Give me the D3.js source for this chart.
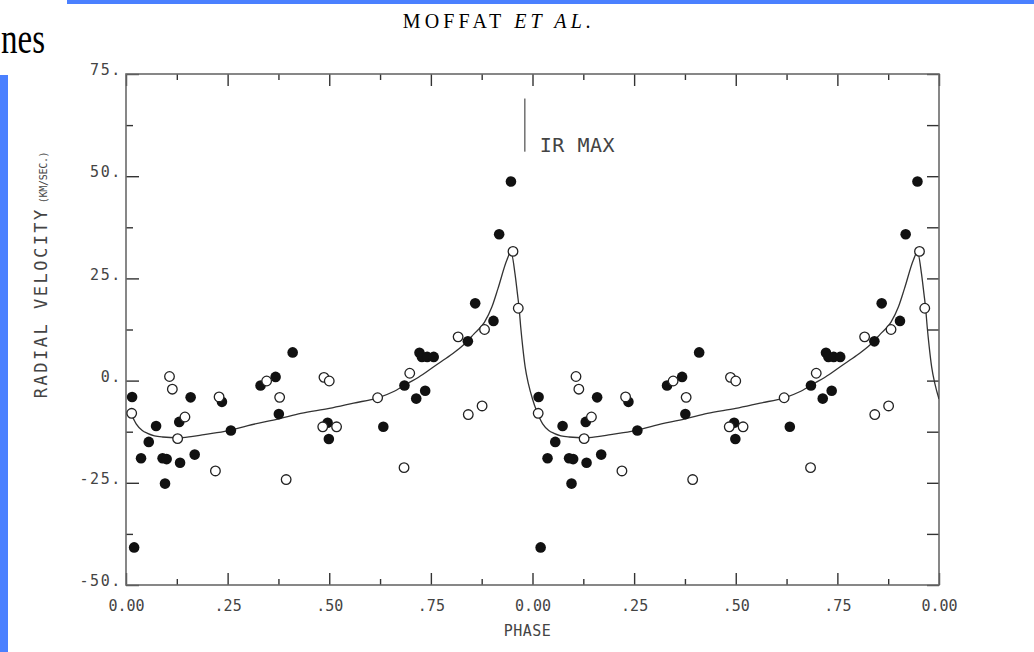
<!DOCTYPE html>
<html>
<head>
<meta charset="utf-8">
<script src="https://cdn.jsdelivr.net/npm/d3@7"></script>
<style>
  html, body { margin: 0; padding: 0; background: #fff; }
  svg { display: block; background: #fff; }
</style>
</head>
<body>
<svg id="chart" width="1034" height="652"></svg>
<script>
// Radial velocity vs phase, one cycle; it is drawn twice (phase and phase + 1)
const filledPoints = [
    [0.015, -4.0], [0.020, -40.8], [0.037, -19.0], [0.056, -15.0], [0.074, -11.1],
    [0.090, -19.0], [0.100, -19.2], [0.096, -25.2], [0.131, -10.1], [0.133, -20.1],
    [0.159, -4.1], [0.169, -18.1], [0.236, -5.2], [0.258, -12.2], [0.331, -1.2],
    [0.368, 0.9], [0.376, -8.2], [0.410, 6.9], [0.496, -10.3], [0.499, -14.3],
    [0.633, -11.3], [0.685, -1.2], [0.714, -4.4], [0.736, -2.5], [0.722, 6.8],
    [0.728, 5.8], [0.741, 5.8], [0.757, 5.8], [0.841, 9.6], [0.859, 18.9],
    [0.904, 14.6], [0.918, 35.8], [0.947, 48.7]
];

const openPoints = [
    [0.014, -8.0], [0.107, 1.0], [0.114, -2.1], [0.127, -14.2], [0.145, -8.9],
    [0.220, -22.1], [0.229, -4.0], [0.346, -0.1], [0.378, -4.1], [0.394, -24.2],
    [0.484, -11.3], [0.487, 0.8], [0.500, -0.1], [0.518, -11.3], [0.619, -4.2],
    [0.684, -21.3], [0.698, 1.8], [0.817, 10.7], [0.842, -8.3], [0.876, -6.2],
    [0.882, 12.5], [0.952, 31.6], [0.965, 17.7]
];

// fitted velocity curve
const fitCurve = [
    [0.000, -4.5], [0.010, -7.4], [0.025, -10.6], [0.040, -12.2], [0.053, -12.9],
    [0.070, -13.5], [0.090, -13.8], [0.128, -14.0], [0.160, -13.7], [0.192, -13.2],
    [0.250, -12.3], [0.300, -11.0], [0.378, -9.3], [0.430, -8.0], [0.500, -6.8],
    [0.560, -5.5], [0.620, -4.2], [0.660, -2.6], [0.695, -0.6], [0.730, 1.5],
    [0.757, 3.4], [0.798, 6.2], [0.830, 8.7], [0.855, 11.3], [0.882, 14.3],
    [0.900, 18.0], [0.915, 22.5], [0.937, 29.5], [0.947, 31.5], [0.957, 26.1],
    [0.963, 21.2], [0.967, 17.8], [0.971, 13.1], [0.976, 8.2], [0.982, 3.3],
    [0.990, -0.8], [1.000, -4.5]
];

const cycles = [0, 1];

const xTickValues = [0, 0.25, 0.5, 0.75, 1, 1.25, 1.5, 1.75, 2];
const xTickLabels = ['0.00', '.25', '.50', '.75', '0.00', '.25', '.50', '.75', '0.00'];
const xMinorTicks = [0.125, 0.375, 0.625, 0.875, 1.125, 1.375, 1.625, 1.875];

const yTickValues = [-50, -25, 0, 25, 50, 75];
const yTickLabels = ['-50.', '-25.', '0.', '25.', '50.', '75.'];
const yMinorTicks = [-37.5, -12.5, 12.5, 37.5, 62.5];

const irMaxPhase = 0.981;
const irMaxVel = [56, 69];

(function() {
    'use strict';

    const margin = { top: 74, left: 126 };
    const width = 813;
    const height = 511;
    const plotFont = "'DejaVu Sans Mono', 'Liberation Mono', monospace";
    const serifFont = "'Liberation Serif', 'Times New Roman', serif";
    const inkGray = '#444';
    const slideBlue = '#4a80ff';

    const svg = d3.select('#chart');

    // bits of the slide around the scanned figure
    svg.append('rect')
        .attr('x', 67).attr('y', 0)
        .attr('width', 967).attr('height', 4)
        .attr('fill', slideBlue);
    svg.append('rect')
        .attr('x', 0).attr('y', 75)
        .attr('width', 8).attr('height', 577)
        .attr('fill', slideBlue);
    svg.append('text')
        .attr('x', 1).attr('y', 53)
        .attr('textLength', 44)
        .attr('lengthAdjust', 'spacingAndGlyphs')
        .style('font-family', serifFont)
        .style('font-size', '44px')
        .style('fill', '#000')
        .text('nes');

    // running head
    const title = svg.append('text')
        .attr('x', 499).attr('y', 28)
        .attr('text-anchor', 'middle')
        .style('font-family', serifFont)
        .style('font-size', '20px')
        .style('letter-spacing', '4.2px')
        .style('fill', '#000');
    title.append('tspan').text('MOFFAT ');
    title.append('tspan').style('font-style', 'italic').text('ET AL.');

    const g = svg.append('g')
        .attr('transform', `translate(${margin.left},${margin.top})`);

    const x = d3.scaleLinear().domain([0, 2]).range([0, width]);
    const y = d3.scaleLinear().domain([-50, 75]).range([height, 0]);

    function styleAxis(sel) {
        sel.select('.domain').remove();
        sel.selectAll('line').attr('stroke', '#333').attr('stroke-width', 1.4);
        sel.attr('font-family', plotFont).attr('font-size', 15);
        sel.selectAll('text').attr('fill', inkGray);
    }

    // bottom axis (ticks point inward)
    g.append('g')
        .attr('transform', `translate(0,${height})`)
        .call(d3.axisBottom(x).tickValues(xTickValues)
            .tickFormat((d, i) => xTickLabels[i])
            .tickSizeInner(-12).tickSizeOuter(0).tickPadding(15))
        .call(styleAxis);
    g.append('g')
        .attr('transform', `translate(0,${height})`)
        .call(d3.axisBottom(x).tickValues(xMinorTicks).tickFormat('')
            .tickSizeInner(-6).tickSizeOuter(0))
        .call(styleAxis);

    // top axis
    g.append('g')
        .call(d3.axisTop(x).tickValues(xTickValues).tickFormat('')
            .tickSizeInner(-12).tickSizeOuter(0))
        .call(styleAxis);
    g.append('g')
        .call(d3.axisTop(x).tickValues(xMinorTicks).tickFormat('')
            .tickSizeInner(-6).tickSizeOuter(0))
        .call(styleAxis);

    // left axis
    g.append('g')
        .call(d3.axisLeft(y).tickValues(yTickValues)
            .tickFormat((d, i) => yTickLabels[i])
            .tickSizeInner(-13).tickSizeOuter(0).tickPadding(4))
        .call(styleAxis)
        .call(sel => sel.selectAll('text').attr('dy', '0.05em').style('letter-spacing', '1.6px'));
    g.append('g')
        .call(d3.axisLeft(y).tickValues(yMinorTicks).tickFormat('')
            .tickSizeInner(-7).tickSizeOuter(0))
        .call(styleAxis);

    // right axis, all ticks the same length
    g.append('g')
        .attr('transform', `translate(${width},0)`)
        .call(d3.axisRight(y).tickValues(yTickValues.concat(yMinorTicks)).tickFormat('')
            .tickSizeInner(-12).tickSizeOuter(0))
        .call(styleAxis);

    // frame
    g.append('rect')
        .attr('x', 0).attr('y', 0)
        .attr('width', width).attr('height', height)
        .attr('fill', 'none')
        .attr('stroke', '#6a6a6a')
        .attr('stroke-width', 1.6);

    // axis titles
    g.append('text')
        .attr('x', width / 2 - 5)
        .attr('y', height + 51)
        .attr('text-anchor', 'middle')
        .style('font-family', plotFont)
        .style('font-size', '15px')
        .style('letter-spacing', '0.5px')
        .style('fill', inkGray)
        .text('PHASE');

    const yTitle = g.append('text')
        .attr('transform', `translate(-79,${y(-4.3)}) rotate(-90)`)
        .attr('text-anchor', 'start')
        .style('font-family', plotFont)
        .style('fill', inkGray);
    yTitle.append('tspan')
        .style('font-size', '17px')
        .style('letter-spacing', '2.5px')
        .text('RADIAL VELOCITY');
    yTitle.append('tspan')
        .attr('dx', 4)
        .style('font-size', '10px')
        .style('letter-spacing', '-0.3px')
        .text('(KM/SEC.)');

    // IR maximum marker
    g.append('line')
        .attr('x1', x(irMaxPhase)).attr('x2', x(irMaxPhase))
        .attr('y1', y(irMaxVel[0])).attr('y2', y(irMaxVel[1]))
        .attr('stroke', '#777')
        .attr('stroke-width', 1.6);
    g.append('text')
        .attr('x', x(irMaxPhase) + 15)
        .attr('y', y(irMaxVel[0]))
        .style('font-family', plotFont)
        .style('font-size', '20px')
        .style('letter-spacing', '0.5px')
        .style('fill', inkGray)
        .text('IR MAX');

    // fitted curve, both cycles joined into one path
    const curvePts = [];
    cycles.forEach(c => {
        fitCurve.forEach(p => {
            const ph = p[0] + c;
            if (curvePts.length && ph <= curvePts[curvePts.length - 1][0]) return;
            curvePts.push([ph, p[1]]);
        });
    });

    svg.append('defs').append('clipPath')
        .attr('id', 'curve-clip')
        .append('rect')
        .attr('x', x(0.01)).attr('y', 0)
        .attr('width', width - x(0.01)).attr('height', height);

    g.append('path')
        .datum(curvePts)
        .attr('clip-path', 'url(#curve-clip)')
        .attr('fill', 'none')
        .attr('stroke', '#333')
        .attr('stroke-width', 1.3)
        .attr('d', d3.line()
            .x(d => x(d[0]))
            .y(d => y(d[1]))
            .curve(d3.curveMonotoneX));

    const repeat = pts => cycles.flatMap(c => pts.map(p => [p[0] + c, p[1]]));

    g.selectAll('.pt-filled')
        .data(repeat(filledPoints))
        .join('circle')
        .attr('class', 'pt-filled')
        .attr('cx', d => x(d[0]))
        .attr('cy', d => y(d[1]))
        .attr('r', 5.3)
        .attr('fill', '#111');

    g.selectAll('.pt-open')
        .data(repeat(openPoints))
        .join('circle')
        .attr('class', 'pt-open')
        .attr('cx', d => x(d[0]))
        .attr('cy', d => y(d[1]))
        .attr('r', 4.8)
        .attr('fill', '#fff')
        .attr('stroke', '#222')
        .attr('stroke-width', 1.3);
})();
</script>
</body>
</html>
